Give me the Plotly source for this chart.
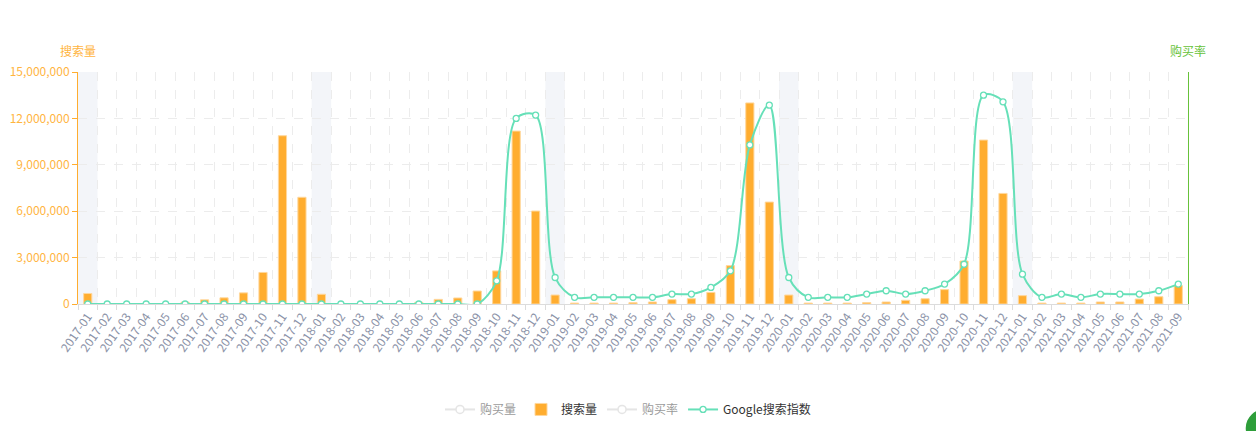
import plotly.graph_objects as go

# months on the x axis
months = [f"{y}-{m:02d}" for y in range(2017, 2022) for m in range(1, 13)][:57]

# 搜索量 (bars, left axis)
search_volume = [
    680000, 0, 0, 0, 0, 120000, 270000, 400000, 720000, 2040000, 10880000, 6900000,
    630000, 0, 0, 0, 0, 110000, 300000, 390000, 840000, 2140000, 11180000, 6010000,
    580000, 60000, 60000, 60000, 90000, 130000, 280000, 340000, 750000, 2480000, 13000000, 6590000,
    580000, 60000, 60000, 60000, 90000, 130000, 240000, 340000, 930000, 2780000, 10600000, 7150000,
    540000, 60000, 60000, 60000, 130000, 130000, 320000, 470000, 1190000,
]

# Google搜索指数 (line, right axis 0-70)
google_index = [
    0, 0, 0, 0, 0, 0, 0, 0, 0, 0, 0, 0,
    0, 0, 0, 0, 0, 0, 0, 0, 0, 7, 56, 57,
    8, 2, 2, 2, 2, 2, 3, 3, 5, 10, 48, 60,
    8, 2, 2, 2, 3, 4, 3, 4, 6, 12, 63, 61,
    9, 2, 3, 2, 3, 3, 3, 4, 6,
]

# hidden series (switched off, shown only in the legend; values unknown)
buy_volume = [None] * len(months)
buy_rate = [None] * len(months)

ORANGE = "#ffad2f"
TEAL = "#66e0b8"
GREEN = "#67c23a"
FONT = "Noto Sans CJK SC"

fig = go.Figure()

fig.add_trace(go.Scatter(
    x=months, y=buy_volume, name="购买量", mode="lines+markers",
    visible="legendonly", line=dict(color="#cccccc", width=2),
    marker=dict(size=8, color="white", line=dict(color="#cccccc", width=1.5)),
))
fig.add_trace(go.Bar(
    x=months, y=search_volume, name="搜索量", width=0.42,
    marker=dict(color=ORANGE, line=dict(color="#ffd79c", width=1)),
))
fig.add_trace(go.Scatter(
    x=months, y=buy_rate, name="购买率", mode="lines+markers",
    visible="legendonly", yaxis="y2", line=dict(color="#cccccc", width=2),
    marker=dict(size=8, color="white", line=dict(color="#cccccc", width=1.5)),
))
fig.add_trace(go.Scatter(
    x=months, y=google_index, name="Google搜索指数", mode="lines+markers", yaxis="y2",
    line=dict(color=TEAL, width=2, shape="spline", smoothing=0.9),
    marker=dict(size=6, color="white", line=dict(color=TEAL, width=1.3)),
))

# light bands on each January
shapes = []
for i, m in enumerate(months):
    if m.endswith("-01"):
        shapes.append(dict(type="rect", xref="x", yref="paper", x0=i - 0.5, x1=i + 0.5,
                           y0=0, y1=1, fillcolor="#f3f5f9", line_width=0, layer="below"))

# round floating button in the bottom-right corner of the page
shapes.append(dict(type="circle", xref="paper", yref="paper", x0=1.052, x1=1.09,
                   y0=-0.62, y1=-0.45, fillcolor="#2e9e3a", line_width=0))

fig.update_layout(
    width=1256, height=431,
    margin=dict(l=78, r=68, t=72, b=127, autoexpand=False),
    paper_bgcolor="white", plot_bgcolor="white",
    font=dict(family=FONT, size=12, color="#333"),
    showlegend=True,
    legend=dict(orientation="h", xref="container", yref="container", x=0.5, xanchor="center",
                y=0.05, yanchor="middle", font=dict(size=12, color="#333"),
                traceorder="normal"),
    xaxis=dict(
        type="category", tickson="boundaries", tickangle=-55, automargin=False,
        tickfont=dict(size=12, color="#8c93a8"),
        showline=True, linecolor="#dcdcdc", ticks="outside", ticklen=5, tickcolor="#dcdcdc",
        showgrid=True, gridcolor="#ececec", griddash="dash", zeroline=False,
        range=[-0.5, len(months) - 0.5],
    ),
    yaxis=dict(
        range=[0, 15000000], dtick=3000000, tickformat=",", automargin=False,
        tickfont=dict(size=12, color="#ffb53f"),
        showline=True, linecolor="#ffad2f", ticks="outside", ticklen=5, tickcolor="#ffad2f",
        showgrid=True, gridcolor="#ececec", griddash="dash", zeroline=False,
    ),
    yaxis2=dict(
        overlaying="y", side="right", range=[0, 70], showgrid=False, zeroline=False,
        automargin=False, showticklabels=False, showline=True, linecolor=GREEN, linewidth=1,
    ),
    annotations=[
        dict(text="搜索量", xref="paper", yref="paper", x=0, y=1, yshift=22, xanchor="center",
             yanchor="middle", showarrow=False, font=dict(size=12, color="#ffb53f")),
        dict(text="购买率", xref="paper", yref="paper", x=1, y=1, yshift=22, xanchor="center",
             yanchor="middle", showarrow=False, font=dict(size=12, color=GREEN)),
    ],
    shapes=shapes,
)

# drop the browser's default 8px body margin so the figure sits at the page corner
fig.write_html("out.html", config={"displayModeBar": False},
               post_script="document.body.style.margin='0';")
